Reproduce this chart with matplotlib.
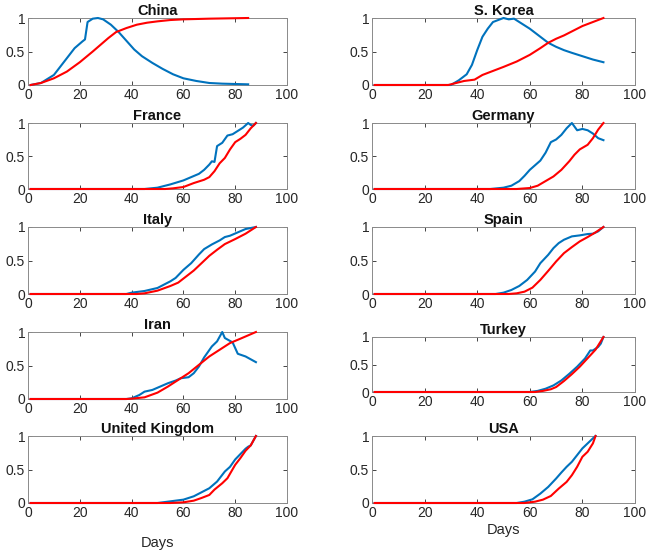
import numpy as np
import matplotlib
matplotlib.use("Agg")
import matplotlib.pyplot as plt

plt.rcParams["font.family"] = ["Liberation Sans", "DejaVu Sans"]

# ── data (day, normalised value) ─────────────────────────────────────────────
china_blue_x = [1, 5, 10, 15, 18, 21, 22, 23, 25, 27, 29, 32, 35, 38, 41, 44, 48, 52, 56, 60, 65, 70, 75, 80, 85]
china_blue_y = [0, 0.03, 0.15, 0.4, 0.55, 0.65, 0.68, 0.94, 0.99, 1.0, 0.98, 0.9, 0.79, 0.66, 0.53, 0.43, 0.33, 0.24, 0.16, 0.1, 0.06, 0.03, 0.02, 0.015, 0.01]
china_red_x = [1, 5, 10, 15, 20, 25, 28, 31, 34, 38, 42, 46, 50, 55, 60, 70, 85]
china_red_y = [0, 0.03, 0.1, 0.2, 0.34, 0.5, 0.6, 0.7, 0.79, 0.85, 0.9, 0.93, 0.95, 0.97, 0.98, 0.99, 1.0]

korea_blue_x = [1, 30, 33, 36, 38, 40, 42, 44, 46, 48, 50, 52, 54, 56, 60, 64, 67, 70, 73, 76, 80, 84, 88]
korea_blue_y = [0, 0, 0.07, 0.16, 0.3, 0.52, 0.72, 0.84, 0.94, 0.97, 1.0, 0.98, 0.99, 0.94, 0.84, 0.72, 0.63, 0.57, 0.52, 0.48, 0.43, 0.38, 0.34]
korea_red_x = [1, 29, 32, 35, 39, 42, 46, 50, 55, 60, 64, 67, 70, 73, 76, 80, 84, 88]
korea_red_y = [0, 0, 0.03, 0.06, 0.08, 0.15, 0.21, 0.27, 0.35, 0.45, 0.55, 0.63, 0.69, 0.74, 0.8, 0.88, 0.94, 1.0]

france_blue_x = [1, 45, 50, 55, 60, 63, 66, 68, 70, 71, 72, 73, 75, 77, 79, 81, 83, 85, 86, 87, 88]
france_blue_y = [0, 0, 0.02, 0.07, 0.13, 0.18, 0.23, 0.29, 0.37, 0.42, 0.41, 0.65, 0.7, 0.81, 0.83, 0.88, 0.93, 1.0, 0.97, 0.96, 1.0]
france_red_x = [1, 53, 56, 60, 64, 68, 70, 72, 74, 76, 78, 80, 82, 84, 86, 88]
france_red_y = [0, 0, 0.01, 0.03, 0.09, 0.14, 0.18, 0.27, 0.39, 0.47, 0.6, 0.71, 0.76, 0.82, 0.92, 1.0]

germany_blue_x = [1, 45, 50, 53, 56, 58, 60, 62, 64, 66, 68, 70, 72, 74, 76, 78, 80, 82, 84, 86, 88]
germany_blue_y = [0, 0, 0.02, 0.05, 0.12, 0.2, 0.29, 0.36, 0.43, 0.55, 0.71, 0.75, 0.82, 0.92, 1.0, 0.89, 0.91, 0.89, 0.84, 0.77, 0.74]
germany_red_x = [1, 55, 60, 63, 66, 69, 72, 75, 77, 79, 82, 84, 86, 88]
germany_red_y = [0, 0, 0.015, 0.05, 0.12, 0.19, 0.29, 0.42, 0.52, 0.6, 0.67, 0.77, 0.9, 1.0]

italy_blue_x = [1, 38, 40, 45, 50, 55, 57, 60, 63, 66, 68, 71, 74, 76, 78, 81, 84, 86, 88]
italy_blue_y = [0, 0, 0.02, 0.045, 0.09, 0.19, 0.24, 0.36, 0.46, 0.59, 0.67, 0.74, 0.8, 0.85, 0.87, 0.92, 0.97, 0.985, 1.0]
italy_red_x = [1, 42, 45, 50, 55, 58, 61, 64, 67, 70, 73, 76, 80, 84, 88]
italy_red_y = [0, 0, 0.01, 0.05, 0.12, 0.17, 0.26, 0.35, 0.46, 0.57, 0.66, 0.745, 0.82, 0.9, 1.0]

spain_blue_x = [1, 47, 50, 53, 56, 59, 62, 64, 67, 69, 71, 73, 76, 79, 82, 84, 86, 88]
spain_blue_y = [0, 0, 0.02, 0.06, 0.12, 0.21, 0.335, 0.46, 0.585, 0.685, 0.76, 0.81, 0.86, 0.875, 0.895, 0.9, 0.935, 1.0]
spain_red_x = [1, 52, 55, 58, 61, 64, 67, 70, 73, 76, 79, 82, 85, 88]
spain_red_y = [0, 0, 0.01, 0.035, 0.095, 0.21, 0.345, 0.485, 0.61, 0.7, 0.785, 0.85, 0.92, 1.0]

iran_blue_x = [1, 38, 40, 43, 45, 48, 51, 54, 57, 59, 62, 64, 66, 68, 71, 73, 75, 76, 79, 81, 84, 88]
iran_blue_y = [0, 0, 0.01, 0.06, 0.11, 0.135, 0.185, 0.235, 0.275, 0.31, 0.325, 0.385, 0.485, 0.62, 0.785, 0.86, 1.0, 0.91, 0.845, 0.675, 0.635, 0.55]
iran_red_x = [1, 38, 40, 45, 50, 54, 58, 62, 66, 70, 74, 78, 82, 85, 88]
iran_red_y = [0, 0, 0.005, 0.025, 0.095, 0.185, 0.285, 0.385, 0.51, 0.635, 0.735, 0.835, 0.9, 0.95, 1.0]

turkey_blue_x = [1, 60, 63, 66, 69, 72, 75, 78, 81, 83, 84, 86, 87, 88]
turkey_blue_y = [0, 0, 0.02, 0.06, 0.12, 0.21, 0.33, 0.46, 0.61, 0.755, 0.755, 0.82, 0.88, 1.0]
turkey_red_x = [1, 62, 65, 68, 70, 73, 76, 79, 82, 85, 88]
turkey_red_y = [0, 0, 0.02, 0.05, 0.09, 0.2, 0.325, 0.46, 0.615, 0.77, 1.0]

uk_blue_x = [1, 50, 55, 60, 64, 67, 70, 73, 76, 78, 80, 82, 84, 85, 86, 88]
uk_blue_y = [0, 0, 0.025, 0.05, 0.1, 0.16, 0.22, 0.32, 0.47, 0.54, 0.65, 0.73, 0.81, 0.84, 0.86, 1.0]
uk_red_x = [1, 55, 60, 64, 67, 70, 72, 75, 77, 80, 82, 84, 86, 88]
uk_red_y = [0, 0, 0.01, 0.035, 0.075, 0.12, 0.2, 0.295, 0.37, 0.57, 0.67, 0.78, 0.86, 1.0]

usa_blue_x = [1, 55, 58, 61, 64, 67, 70, 72, 74, 76, 78, 80, 82, 84, 85]
usa_blue_y = [0, 0, 0.02, 0.055, 0.14, 0.24, 0.365, 0.455, 0.54, 0.615, 0.715, 0.815, 0.89, 0.965, 1.0]
usa_red_x = [1, 58, 62, 65, 68, 71, 74, 76, 78, 80, 82, 84, 85]
usa_red_y = [0, 0, 0.02, 0.05, 0.105, 0.215, 0.315, 0.415, 0.54, 0.69, 0.765, 0.89, 1.0]

titles = ["China", "S. Korea", "France", "Germany", "Italy", "Spain",
          "Iran", "Turkey", "United Kingdom", "USA"]
series = [
    (china_blue_x, china_blue_y, china_red_x, china_red_y),
    (korea_blue_x, korea_blue_y, korea_red_x, korea_red_y),
    (france_blue_x, france_blue_y, france_red_x, france_red_y),
    (germany_blue_x, germany_blue_y, germany_red_x, germany_red_y),
    (italy_blue_x, italy_blue_y, italy_red_x, italy_red_y),
    (spain_blue_x, spain_blue_y, spain_red_x, spain_red_y),
    (iran_blue_x, iran_blue_y, iran_red_x, iran_red_y),
    (turkey_blue_x, turkey_blue_y, turkey_red_x, turkey_red_y),
    (uk_blue_x, uk_blue_y, uk_red_x, uk_red_y),
    (usa_blue_x, usa_blue_y, usa_red_x, usa_red_y),
]

# ── layout (pixel boxes: left, right, top, bottom) ───────────────────────────
W, H = 649, 555
col_lr = [(28, 287), (372, 635)]
rows_left = [(18, 85), (123, 189), (227, 294), (332, 399), (436, 503)]
rows_right = [(18, 85), (123, 189), (227, 294), (337, 392), (436, 503)]

BLUE = "#0072BD"
RED = "#FF0000"

fig = plt.figure(figsize=(W / 100, H / 100), dpi=100)

for i, (title, (bx, by, rx, ry)) in enumerate(zip(titles, series)):
    col = i % 2
    row = i // 2
    l, r = col_lr[col]
    t, b = (rows_left if col == 0 else rows_right)[row]
    ax = fig.add_axes([l / W, 1 - b / H, (r - l) / W, (b - t) / H])
    ax.plot(bx, by, color=BLUE, lw=1.5, clip_on=False, zorder=3)
    ax.plot(rx, ry, color=RED, lw=1.5, clip_on=False, zorder=4)
    ax.set_xlim(0, 100)
    ax.set_ylim(0, 1)
    ax.set_xticks([0, 20, 40, 60, 80, 100])
    ax.set_yticks([0, 0.5, 1])
    ax.set_yticklabels(["0", "0.5", "1"])
    ax.tick_params(direction="in", top=True, right=True, length=3,
                   width=0.6, labelsize=10, colors="#262626", pad=2)
    for s in ax.spines.values():
        s.set_color("#8a8a8a")
        s.set_linewidth(0.7)
    ax.set_title(title, fontsize=10.5, fontweight="bold", pad=2.5, color="#111111")

fig.text((28 + 287) / 2 / W, 1 - 543 / H, "Days", ha="center", va="center",
         fontsize=10.5, color="#262626")
fig.text((372 + 635) / 2 / W, 1 - 530 / H, "Days", ha="center", va="center",
         fontsize=10.5, color="#262626")

fig.savefig("out.png", dpi=100)
plt.close(fig)
